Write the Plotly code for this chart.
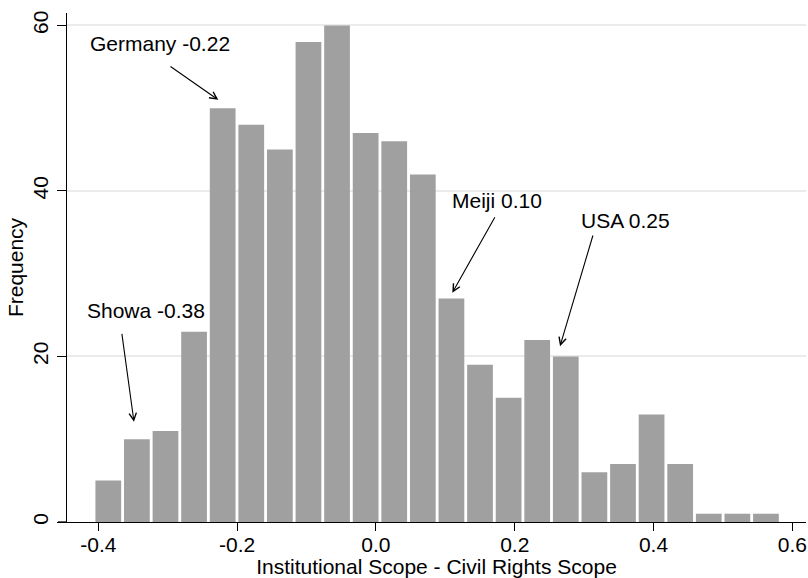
import plotly.graph_objects as go

# Histogram data (24 bins)
bin_centers = [-0.3856, -0.3444, -0.3032, -0.2620, -0.2208, -0.1796, -0.1384, -0.0972,
               -0.0560, -0.0148, 0.0264, 0.0676, 0.1088, 0.1500, 0.1912, 0.2324,
               0.2736, 0.3148, 0.3560, 0.3972, 0.4384, 0.4796, 0.5208, 0.5620]
frequencies = [5, 10, 11, 23, 50, 48, 45, 58, 60, 47, 46, 42, 27, 19, 15, 22,
               20, 6, 7, 13, 7, 1, 1, 1]

x_tick_vals = [-0.4, -0.2, 0.0, 0.2, 0.4, 0.6]
x_tick_text = ["-0.4", "-0.2", "0.0", "0.2", "0.4", "0.6"]
y_tick_vals = [0, 20, 40, 60]
y_tick_text = ["0", "20", "40", "60"]

# Annotations: label, text position, arrow tail, arrow tip
labels = ["Germany -0.22", "Meiji 0.10", "USA 0.25", "Showa -0.38"]
label_x = [-0.3107, 0.1748, 0.3601, -0.3316]
label_y = [57.8, 38.9, 36.4, 25.5]
tail_x = [-0.2981, 0.1726, 0.3133, -0.3663]
tail_y = [55.16, 37.01, 34.80, 22.91]
tip_x = [-0.2271, 0.1101, 0.2653, -0.3486]
tip_y = [51.01, 27.70, 21.25, 12.10]

FONT = "Liberation Sans, Arial, Helvetica, sans-serif"
FS = 21

fig = go.Figure()
fig.add_trace(go.Bar(
    x=bin_centers, y=frequencies,
    marker=dict(color="#a0a0a0", line=dict(width=0)),
    hoverinfo="x+y",
))

annotations = []
for i in range(len(labels)):
    annotations.append(dict(
        x=label_x[i], y=label_y[i], xref="x", yref="y", text=labels[i],
        showarrow=False, xanchor="center", yanchor="middle",
        font=dict(family=FONT, size=FS, color="black"),
    ))
    annotations.append(dict(
        x=tip_x[i], y=tip_y[i], ax=tail_x[i], ay=tail_y[i],
        xref="x", yref="y", axref="x", ayref="y", text="",
        showarrow=True, arrowhead=5, arrowsize=1.3, arrowwidth=1.1,
        arrowcolor="black", standoff=0, startstandoff=0,
    ))

fig.update_layout(
    width=808, height=578,
    margin=dict(l=67, r=2, t=13, b=56, autoexpand=False),
    paper_bgcolor="white", plot_bgcolor="white",
    bargap=0.1, showlegend=False,
    font=dict(family=FONT, size=FS, color="black"),
    annotations=annotations,
    xaxis=dict(
        range=[-0.4451, 0.6197], tickvals=x_tick_vals, ticktext=x_tick_text,
        showgrid=False, zeroline=False, showline=True, linecolor="black", linewidth=1.3,
        ticks="outside", ticklen=8, tickwidth=1.3, tickcolor="black",
        tickfont=dict(family=FONT, size=FS), ticklabelstandoff=-4,
        title=dict(text="Institutional Scope - Civil Rights Scope",
                   font=dict(family=FONT, size=FS), standoff=0),
    ),
    yaxis=dict(
        range=[0, 61.5], tickvals=y_tick_vals, ticktext=y_tick_text, tickangle=-90,
        showgrid=True, gridcolor="#ebebeb", gridwidth=1.6, zeroline=False,
        showline=True, linecolor="black", linewidth=1.3,
        ticks="outside", ticklen=9, tickwidth=1.3, tickcolor="black",
        tickfont=dict(family=FONT, size=FS),
        title=dict(text="Frequency", font=dict(family=FONT, size=FS), standoff=0),
    ),
    shapes=[dict(type="line", xref="paper", yref="y", x0=-0.0122, x1=0, y0=0, y1=0,
                 line=dict(color="black", width=1.3))],
)

fig.write_html("out.html", config={"displayModeBar": False},
               post_script="document.body.style.margin='0';document.body.style.overflow='hidden';")
